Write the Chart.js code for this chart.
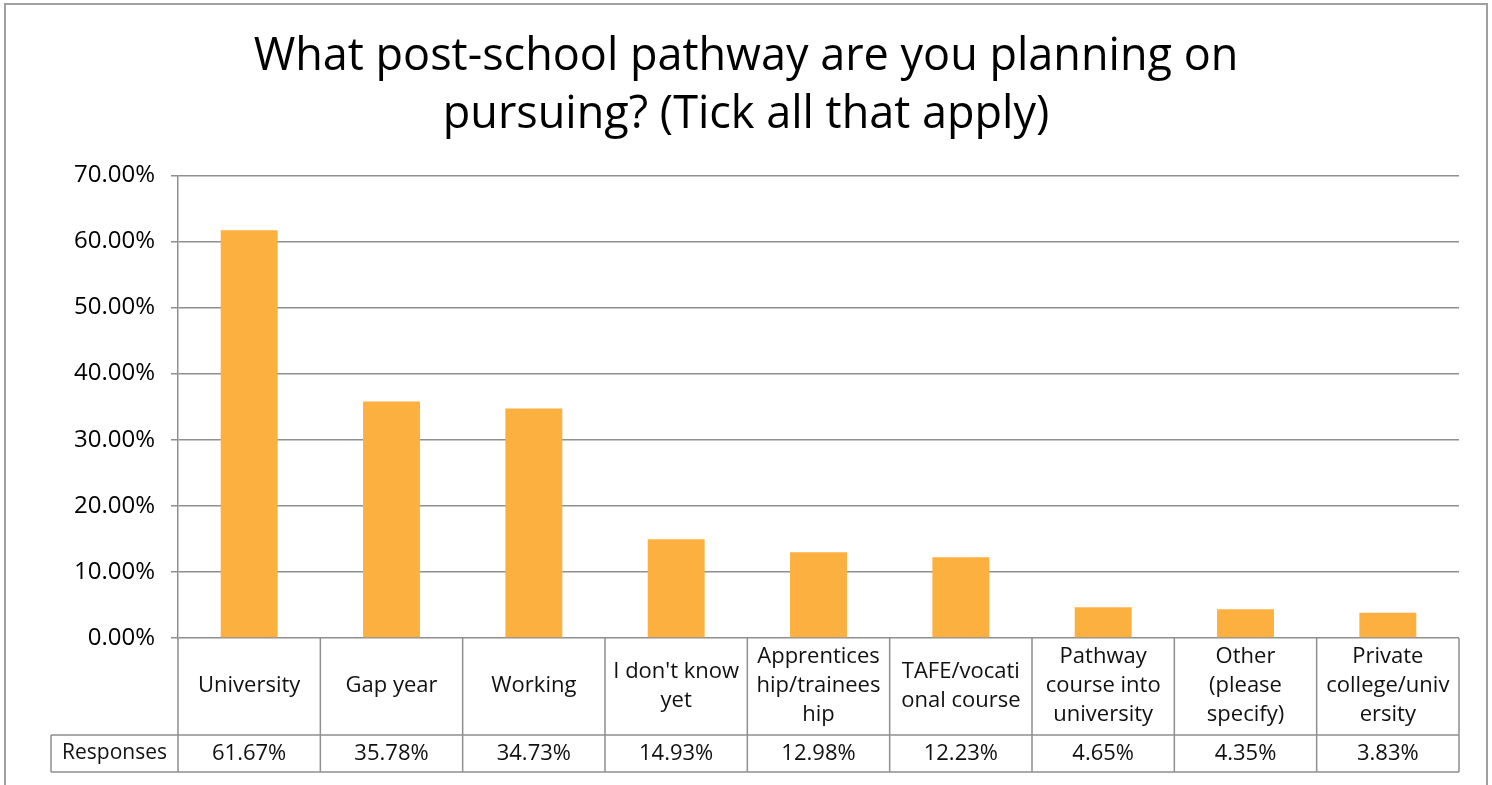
<!DOCTYPE html>
<html>
<head>
<meta charset="utf-8">
<script src="https://cdn.jsdelivr.net/npm/chart.js@4"></script>
<style>
  html, body { margin: 0; padding: 0; background: #fff; }
  #wrap { position: relative; width: 1492px; height: 785px; }
</style>
</head>
<body>
<div id="wrap"><canvas id="chartPathway" width="1492" height="785"></canvas></div>
<script>
/* Données */
const categories = ['University', 'Gap year', 'Working', "I don't know yet",
    'Apprenticeship/traineeship', 'TAFE/vocational course',
    'Pathway course into university', 'Other (please specify)', 'Private college/university'];
const categoryLines = [
    ['University'], ['Gap year'], ['Working'], ["I don't know", 'yet'],
    ['Apprentices', 'hip/trainees', 'hip'], ['TAFE/vocati', 'onal course'],
    ['Pathway', 'course into', 'university'], ['Other', '(please', 'specify)'],
    ['Private', 'college/univ', 'ersity']
];
const responses = [61.67, 35.78, 34.73, 14.93, 12.98, 12.23, 4.65, 4.35, 3.83];
const seriesName = 'Responses';
const titleLines = ['What post-school pathway are you planning on', 'pursuing? (Tick all that apply)'];

const FONT = "'Open Sans', sans-serif";
const GRID = '#8f8f8f';

/* Cadre extérieur + tableau de données sous l'axe */
const tablePlugin = {
    id: 'dataTable',
    beforeDraw(chart) {
        const c = chart.ctx;
        c.save();
        c.strokeStyle = '#a0a0a0';
        c.lineWidth = 2;
        c.beginPath();
        c.moveTo(5, 800); c.lineTo(5, 4); c.lineTo(1487, 4); c.lineTo(1487, 800);
        c.stroke();
        c.restore();
    },
    afterDraw(chart) {
        const c = chart.ctx;
        const x = chart.scales.x;
        const area = chart.chartArea;
        const n = categories.length;
        const w = (x.right - x.left) / n;
        const rowTop = area.bottom;
        const valTop = rowTop + 97;
        const valBot = valTop + 37;
        const labelLeft = 51;

        c.save();
        c.strokeStyle = GRID;
        c.lineWidth = 1.5;
        c.beginPath();
        for (let i = 0; i <= n; i++) {
            const bx = x.left + i * w;
            c.moveTo(bx, rowTop); c.lineTo(bx, valBot);
        }
        c.moveTo(labelLeft, valTop); c.lineTo(x.right, valTop);
        c.moveTo(labelLeft, valBot); c.lineTo(x.right, valBot);
        c.moveTo(labelLeft, valTop); c.lineTo(labelLeft, valBot);
        c.stroke();

        c.fillStyle = '#111';
        c.font = '22px ' + FONT;
        c.textAlign = 'center';
        c.textBaseline = 'middle';
        const midRow = rowTop + 48;
        categoryLines.forEach((lines, i) => {
            const cx = x.getPixelForValue(i);
            const start = midRow - (lines.length - 1) * 29 / 2;
            lines.forEach((t, k) => c.fillText(t, cx, start + k * 29));
            c.fillText(responses[i].toFixed(2) + '%', cx, (valTop + valBot) / 2);
        });
        c.font = '21px ' + FONT;
        c.fillText(seriesName, (labelLeft + x.left) / 2, (valTop + valBot) / 2);
        c.restore();
    }
};

new Chart(document.getElementById('chartPathway'), {
    type: 'bar',
    data: {
        labels: categories,
        datasets: [{
            label: seriesName,
            data: responses,
            backgroundColor: '#FBB040',
            borderWidth: 0,
            barPercentage: 0.4,
            categoryPercentage: 1.0
        }]
    },
    options: {
        responsive: false,
        animation: false,
        layout: { padding: { left: 0, right: 0, top: 0, bottom: 147 } },
        plugins: {
            legend: { display: false },
            tooltip: { enabled: false },
            title: {
                display: true,
                text: titleLines,
                color: '#000',
                font: { family: FONT, size: 45, weight: 'normal', lineHeight: 1.27 },
                padding: { top: 29, bottom: 32 }
            }
        },
        scales: {
            x: { display: false },
            y: {
                min: 0, max: 70,
                afterFit: s => { s.width = 178; },
                grid: { color: GRID, lineWidth: 1.5, tickLength: 7, drawTicks: true },
                border: { display: true, color: GRID, width: 1.5 },
                ticks: {
                    stepSize: 10,
                    padding: 16,
                    color: '#000',
                    font: { family: FONT, size: 24 },
                    callback: v => v.toFixed(2) + '%'
                }
            },
            /* marge droite : axe vide pour garder le titre centré sur la page */
            yRight: {
                position: 'right',
                min: 0, max: 70,
                afterFit: s => { s.width = 33; },
                grid: { display: false, drawOnChartArea: false },
                border: { display: false },
                ticks: { display: false }
            }
        }
    },
    plugins: [tablePlugin]
});
</script>
</body>
</html>
